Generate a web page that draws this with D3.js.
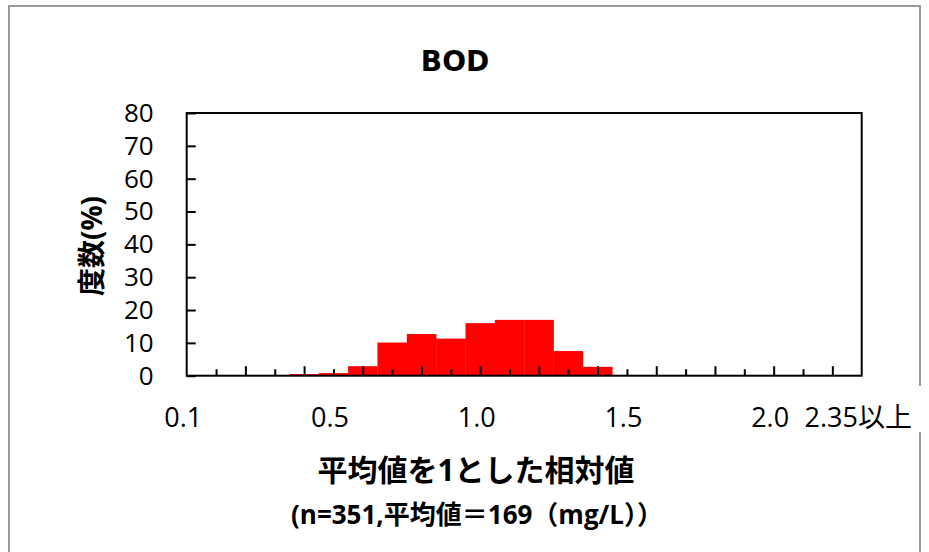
<!DOCTYPE html>
<html>
<head>
<meta charset="utf-8">
<script src="https://cdn.jsdelivr.net/npm/d3@7"></script>
<style>
  body { margin: 0; background: #fff; }
  text { font-family: 'Open Sans', 'Noto Sans CJK JP', sans-serif; fill: #000; }
</style>
</head>
<body>
<svg id="chart"></svg>
<script>
  // bin centres (relative value), frequency in %
  const binCenters = [0.4, 0.5, 0.6, 0.7, 0.8, 0.9, 1.0, 1.1, 1.2, 1.3, 1.4];
  const freqs = [0.5, 0.8, 2.9, 10.1, 12.7, 11.3, 16.0, 17.0, 17.0, 7.5, 2.7];
  const yTicks = [0, 10, 20, 30, 40, 50, 60, 70, 80];
  const xLabelVals = [0, 0.5, 1.0, 1.5, 2.0, 2.3];
  const xLabels = ['0.1', '0.5', '1.0', '1.5', '2.0', '2.35以上'];

  const width = 929, height = 552;
  const plot = { left: 186.7, right: 861.7, top: 113, bottom: 375.7 };

  const svg = d3.select('#chart')
    .attr('width', width)
    .attr('height', height);

  // outer border
  svg.append('rect')
    .attr('x', 9).attr('y', 6)
    .attr('width', 911).attr('height', 560)
    .attr('fill', '#fff')
    .attr('stroke', '#9a9a9a')
    .attr('stroke-width', 2);

  let x = d3.scaleLinear().domain([0, 2.3]).range([plot.left, plot.right]);
  let y = d3.scaleLinear().domain([0, 80]).range([plot.bottom, plot.top]);
  let half = 0.05;

  // bars
  svg.append('g')
    .selectAll('rect')
    .data(binCenters)
    .enter()
    .append('rect')
    .attr('x', d => x(d - half))
    .attr('width', d => x(d + half) - x(d - half) + 0.3)
    .attr('y', (d, i) => y(freqs[i]))
    .attr('height', (d, i) => y(0) - y(freqs[i]))
    .attr('fill', '#ff0000');

  // y axis ticks (inside)
  let yAxis = svg.append('g')
    .attr('transform', 'translate(' + plot.left + ',0)')
    .call(d3.axisLeft(y).tickValues(yTicks).tickSizeInner(-9).tickSizeOuter(0).tickPadding(33));
  yAxis.select('.domain').remove();
  yAxis.selectAll('line').attr('stroke', '#000').attr('stroke-width', 2);
  yAxis.selectAll('text').style('font-size', '26px').attr('font-family', null);

  // x axis ticks, major / minor
  let allTicks = d3.range(1, 23).map(k => k / 10);
  let major = allTicks.filter((d, i) => (i + 1) % 2 === 0);
  let minor = allTicks.filter((d, i) => (i + 1) % 2 === 1);

  [[major, 9.5], [minor, 6.5]].forEach(([vals, size]) => {
    let g = svg.append('g')
      .attr('transform', 'translate(0,' + plot.bottom + ')')
      .call(d3.axisBottom(x).tickValues(vals).tickSizeInner(-size).tickSizeOuter(0).tickFormat(''));
    g.select('.domain').remove();
    g.selectAll('line').attr('stroke', '#000').attr('stroke-width', 2);
  });

  // plot frame
  svg.append('rect')
    .attr('x', plot.left).attr('y', plot.top)
    .attr('width', plot.right - plot.left)
    .attr('height', plot.bottom - plot.top)
    .attr('fill', 'none')
    .attr('stroke', '#000')
    .attr('stroke-width', 2);

  // white patch behind last label (covers border like the original)
  svg.append('rect')
    .attr('x', 800).attr('y', 386)
    .attr('width', 125).attr('height', 46)
    .attr('fill', '#fff');

  // x labels
  let xl = svg.append('g')
    .attr('transform', 'translate(-4,' + plot.bottom + ')')
    .call(d3.axisBottom(x).tickValues(xLabelVals).tickSize(0).tickPadding(32)
      .tickFormat((d, i) => xLabels[i]));
  xl.select('.domain').remove();
  xl.selectAll('text').style('font-size', '27px').attr('font-family', null);

  // title
  svg.append('text')
    .attr('x', 455).attr('y', 71)
    .attr('text-anchor', 'middle')
    .style('font-family', "'DejaVu Sans', sans-serif")
    .style('font-weight', 'bold')
    .style('font-size', '28px')
    .text('BOD');

  // y title
  svg.append('text')
    .attr('transform', 'translate(102,246) rotate(-90)')
    .attr('text-anchor', 'middle')
    .style('font-weight', 'bold')
    .style('font-size', '28px')
    .text('度数(%)');

  // x titles
  svg.append('text')
    .attr('x', 476).attr('y', 481)
    .attr('text-anchor', 'middle')
    .style('font-weight', 'bold')
    .style('font-size', '30px')
    .text('平均値を1とした相対値');

  svg.append('text')
    .attr('x', 477).attr('y', 524)
    .attr('text-anchor', 'middle')
    .style('font-weight', 'bold')
    .style('font-size', '26px')
    .text('(n=351,平均値＝169（mg/L））');
</script>
</body>
</html>
